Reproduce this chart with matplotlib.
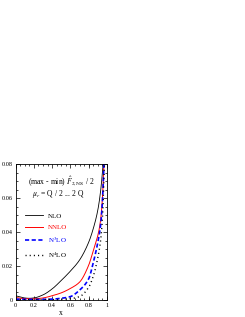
import matplotlib
matplotlib.use("Agg")
import matplotlib.pyplot as plt
from matplotlib.ticker import MultipleLocator, FixedLocator
import numpy as np

plt.rcParams['font.family'] = ['Liberation Serif', 'DejaVu Serif']
plt.rcParams['mathtext.fontset'] = 'stix'

x_nlo = [0.0, 0.05, 0.1, 0.15, 0.2, 0.3, 0.4, 0.5, 0.6, 0.7, 0.8, 0.85, 0.9, 0.93, 0.95, 0.965]
y_nlo = [0.0025, 0.0018, 0.0012, 0.0010, 0.0012, 0.0030, 0.0065, 0.0115, 0.0170, 0.0235, 0.0340, 0.0420, 0.0530, 0.0640, 0.0750, 0.0850]

x_nnlo = [0.0, 0.1, 0.2, 0.3, 0.4, 0.5, 0.6, 0.7, 0.8, 0.85, 0.9, 0.93, 0.95, 0.97]
y_nnlo = [0.0015, 0.0008, 0.0007, 0.0012, 0.0025, 0.0042, 0.0068, 0.0105, 0.0205, 0.0290, 0.0380, 0.0470, 0.0600, 0.0850]

x_n3lo = [0.0, 0.2, 0.4, 0.5, 0.6, 0.7, 0.8, 0.85, 0.9, 0.93, 0.95, 0.97]
y_n3lo = [0.0005, 0.0003, 0.0005, 0.0010, 0.0020, 0.0058, 0.0125, 0.0220, 0.0340, 0.0440, 0.0580, 0.0850]

x_n4lo = [0.0, 0.2, 0.4, 0.6, 0.7, 0.8, 0.85, 0.9, 0.93, 0.95, 0.975]
y_n4lo = [0.0002, 0.0002, 0.0002, 0.0008, 0.0020, 0.0075, 0.0140, 0.0250, 0.0350, 0.0480, 0.0850]

labels = ['NLO', 'NNLO', r'N$^3$LO', r'N$^4$LO']
x_ticks = [0, 0.2, 0.4, 0.6, 0.7999, 1.0]
x_ticklabels = ['0', '0.2', '0.4', '0.6', '0.8', '1']
y_ticks = [0, 0.02, 0.04, 0.06, 0.08]
y_ticklabels = ['0', '0.02', '0.04', '0.06', '0.08']


def pchip(xs, ys, n=400):
    xs = np.asarray(xs, float); ys = np.asarray(ys, float)
    h = np.diff(xs); d = np.diff(ys) / h
    m = np.zeros_like(xs)
    for k in range(1, len(xs) - 1):
        if d[k - 1] * d[k] <= 0:
            m[k] = 0
        else:
            w1 = 2 * h[k] + h[k - 1]; w2 = h[k] + 2 * h[k - 1]
            m[k] = (w1 + w2) / (w1 / d[k - 1] + w2 / d[k])
    m[0] = d[0]; m[-1] = d[-1]
    xx = np.linspace(xs[0], xs[-1], n)
    idx = np.clip(np.searchsorted(xs, xx) - 1, 0, len(xs) - 2)
    t = (xx - xs[idx]) / h[idx]
    h00 = 2 * t**3 - 3 * t**2 + 1; h10 = t**3 - 2 * t**2 + t
    h01 = -2 * t**3 + 3 * t**2; h11 = t**3 - t**2
    yy = h00 * ys[idx] + h10 * h[idx] * m[idx] + h01 * ys[idx + 1] + h11 * h[idx] * m[idx + 1]
    return xx, yy


fig = plt.figure(figsize=(2.45, 3.17), dpi=100)
ax = fig.add_axes([15.5/245, 17/317, 91.5/245, 136/317])

l1, = ax.plot(*pchip(x_nlo, y_nlo), color='black', lw=0.6)
l2, = ax.plot(*pchip(x_nnlo, y_nnlo), color='red', lw=0.7)
l3, = ax.plot(*pchip(x_n3lo, y_n3lo), color='blue', lw=1.2, dashes=(2.5, 1.5))
l4, = ax.plot(*pchip(x_n4lo, y_n4lo), color='black', lw=1.0, dashes=(0.8, 2.2))

ax.set_xlim(0, 1)
ax.set_ylim(0, 0.08)
ax.set_xticks(x_ticks)
ax.set_xticklabels(x_ticklabels)
ax.set_yticks(y_ticks)
ax.set_yticklabels(y_ticklabels)
ax.xaxis.set_minor_locator(MultipleLocator(0.05))
ax.yaxis.set_minor_locator(MultipleLocator(0.005))
ax.tick_params(which='both', direction='in', top=True, right=True, labelsize=4.5, width=0.5, pad=2)
ax.tick_params(which='major', length=3)
ax.tick_params(which='minor', length=1.5)
for s in ax.spines.values():
    s.set_linewidth(0.6)
ax.set_xlabel('x', fontsize=5.5, labelpad=1)

ax.text(0.5, 0.875, r'(max - min) $\hat{F}_{2,\mathrm{NS}}$ / 2', transform=ax.transAxes,
        fontsize=5.5, ha='center', va='center')
ax.text(0.47, 0.78, r'$\mu_r$ = Q / 2 ... 2 Q', transform=ax.transAxes,
        fontsize=5.5, ha='center', va='center')

leg = ax.legend([l1, l2, l3, l4], labels, loc='upper left', bbox_to_anchor=(0.07, 0.665),
                frameon=False, fontsize=5, handlelength=2.6, handletextpad=0.6,
                labelspacing=0.75, borderpad=0)
for t, c in zip(leg.get_texts(), ['black', 'red', 'blue', 'black']):
    t.set_color(c)

fig.savefig('out.png', dpi=100)
